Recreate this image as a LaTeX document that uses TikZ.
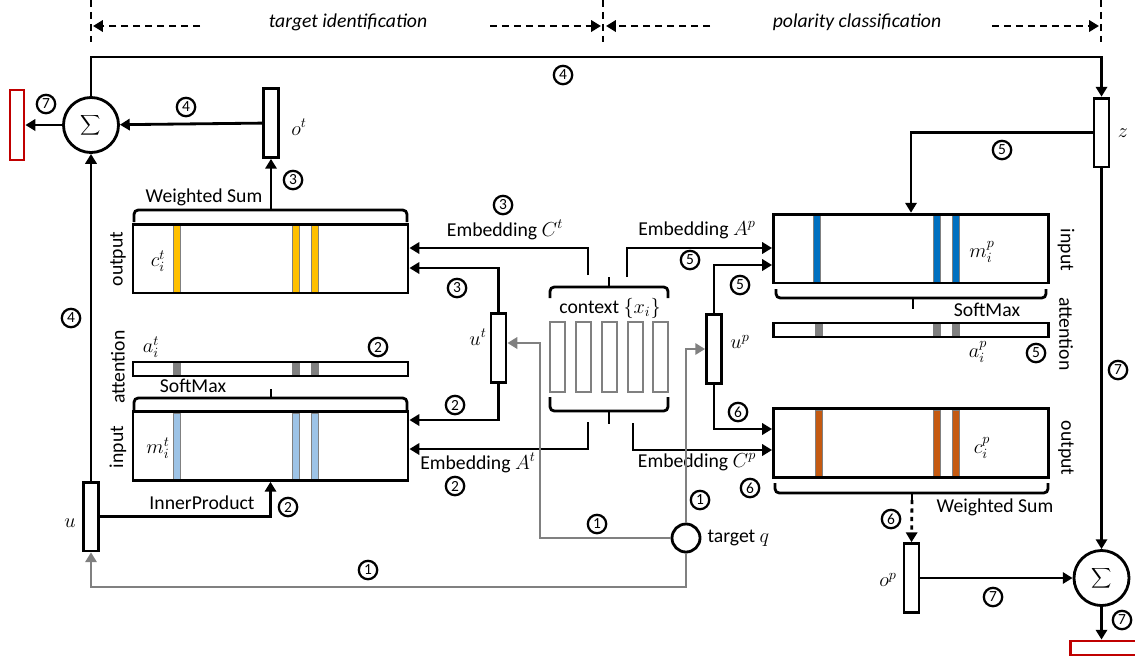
\documentclass[tikz,border=0pt]{standalone}
\usepackage{fontspec}
\setmainfont{Carlito}
\usetikzlibrary{arrows.meta}
\definecolor{barY}{HTML}{FFC000}
\definecolor{barLB}{HTML}{9DC3E6}
\definecolor{barB}{HTML}{0070C0}
\definecolor{barO}{HTML}{C55A11}
\definecolor{outred}{HTML}{C00000}
\definecolor{lgray}{HTML}{808080}

\begin{document}
\begin{tikzpicture}[x=0.025cm,y=-0.025cm,
    font=\fontsize{14}{16}\selectfont,
    line width=2pt,
    arr/.style={-{Triangle[length=7pt,width=8pt]}},
    garr/.style={lgray,-{Triangle[length=7pt,width=8pt]}},
    vec/.style={draw,fill=white,minimum width=0.375cm,minimum height=1.72cm,inner sep=0pt},
    mem/.style={draw,minimum width=6.875cm,minimum height=1.72cm,inner sep=0pt},
    attn/.style={draw,minimum width=6.875cm,minimum height=0.35cm,inner sep=0pt},
    ctxbox/.style={draw=lgray,minimum width=0.375cm,minimum height=1.75cm,inner sep=0pt},
    sumnode/.style={circle,draw,fill=white,minimum size=1.375cm,inner sep=0pt},
    num/.style={circle,draw,line width=1.6pt,minimum size=0.46cm,inner sep=0pt,font=\fontsize{11}{11}\selectfont},
    bar/.style={draw=gray,line width=0.5pt},
    brk/.style={rounded corners=3pt},
    hdr/.style={dash pattern=on 5pt off 3.5pt},
    ]
    \useasboundingbox (0,0) rectangle (1135,660);
    \clip (0,0) rectangle (1135,660);

    %Header
    \draw[hdr] (91,0) -- (91,42);
    \draw[hdr] (603,0) -- (603,42);
    \draw[hdr] (1101,0) -- (1101,42);
    \node[font=\fontsize{14}{16}\selectfont\itshape] (tid) at (348,22) {target identification};
    \node[font=\fontsize{14}{16}\selectfont\itshape] (pcl) at (857,22) {polarity classification};
    \coordinate (h1) at (93,26);
    \coordinate (h2) at (601,26);
    \coordinate (h3) at (606,26);
    \coordinate (h4) at (1099,26);
    \draw[hdr,arr] (200,26) -- (h1);
    \draw[hdr,arr] (490,26) -- (h2);
    \draw[hdr,arr] (710,26) -- (h3);
    \draw[hdr,arr] (992,26) -- (h4);

    %Left sum
    \node[sumnode] (sigt) at (91,125) {$\displaystyle\sum$};
    \node[draw=outred,minimum width=0.35cm,minimum height=1.75cm,inner sep=0pt] (predt) at (17,125) {};
    \node[vec] (ot) at (271,123) {};
    \node (otl) at (299,127) {$o^t$};
    \draw[arr] (sigt) -- (predt);
    \draw[arr] (ot) -- (sigt);
    \node[num] (n1) at (46,104) {7};
    \node[num] (n2) at (186,107) {4};
    \node[num] (n3) at (293,180) {3};

    %Top loop
    \node[vec] (z) at (1101.5,132.5) {};
    \node (zl) at (1123,133) {$z$};
    \draw[arr] (sigt.north) |- (z.north |- 0,57) -- (z.north);
    \node[num] (n4) at (563,75) {4};

    %Left output memory
    \foreach \x in {173,292,311} \filldraw[bar,fill=barY] (\x,225) rectangle ++(7,67);
    \node[mem] (outt) at (270.5,258.5) {};
    \node (cti) at (158,261) {$c_i^t$};
    \node[rotate=90] (otxt) at (118,259) {output};
    \draw[brk] (134,222) |- (271,210) -| (407,222);
    \coordinate (wst) at (271,203);
    \draw (271,210) -- (wst);
    \node (ws1) at (204,197) {Weighted Sum};
    \draw[arr] (wst) -- (ot.south);

    %Left attention
    \foreach \x in {173,292,311} \filldraw[bar,fill=gray] (\x,363) rectangle ++(7,12);
    \node[attn] (attt) at (270.5,369) {};
    \node (ati) at (151,347) {$a_i^t$};
    \node[num] (n5) at (378,347) {2};
    \node[rotate=90] (atxt) at (118,367) {attention};

    %Left input memory
    \foreach \x in {173,292,311} \filldraw[bar,fill=barLB] (\x,413) rectangle ++(7,66);
    \node[mem] (int) at (270.5,446) {};
    \node (mti) at (158,448) {$m_i^t$};
    \node[rotate=90] (itxt) at (118,447) {input};
    \draw[brk] (134,410) |- (271,398) -| (407,410);
    \draw (271,398) -- (271,389);
    \node (sm1) at (193,386) {SoftMax};

    %Query u
    \node[vec] (u) at (91,516.5) {};
    \node (ul) at (70,523) {$u$};
    \draw[arr] (u) -- (sigt);
    \node[num] (n6) at (71,318) {4};
    \draw[arr] (u.east) -| (int.south);
    \node (ip) at (202,503) {InnerProduct};
    \node[num] (n7) at (288,507) {2};

    %Context
    \foreach \x [count=\i] in {557.5,583.5,609.5,635.5,660.5}
        \node[ctxbox] (x\i) at (\x,357) {};
    \draw[brk] (550,298) |- (609,287) -| (668,298);
    \draw (609,287) -- (609,277);
    \draw[brk] (550,397) |- (609,411) -| (668,397);
    \draw (609,411) -- (609,424);
    \node (ctx) at (610,308) {context $\{x_i\}$};

    %u^t
    \node[vec] (ut) at (498.5,348) {};
    \node (utl) at (478,337) {$u^t$};
    \draw[arr] (ut.north) |- (outt.east |- 0,268);
    \draw[arr] (ut.south) |- (int.east |- 0,420);
    \node[num] (n8) at (457,288) {3};
    \node[num] (n9) at (455,405) {2};

    %Embeddings
    \coordinate (eCt) at (588,275);
    \coordinate (eAt) at (588,422);
    \coordinate (eAp) at (627,277);
    \coordinate (eCp) at (633,423);
    \draw[arr] (eCt) |- (outt.east |- 0,248);
    \draw[arr] (eAt) |- (int.east |- 0,449);
    \node (lCt) at (505,230) {Embedding $C^t$};
    \node[num] (n10) at (503,205) {3};
    \node (lAt) at (478,463) {Embedding $A^t$};
    \node[num] (n11) at (455,486) {2};

    %Target
    \node[circle,draw,fill=white,minimum size=0.7cm,inner sep=0pt] (q) at (686,538) {};
    \node[right] (ql) at (q.east) {target $q$};

    %u^p
    \node[vec] (up) at (714,349) {};
    \node (upl) at (740,342) {$u^p$};

    %Right input memory
    \foreach \x in {813,933,952} \filldraw[bar,fill=barB] (\x,215) rectangle ++(7,67);
    \node[mem] (inp) at (911,248.5) {};
    \node (mpi) at (982,252) {$m_i^p$};
    \node[rotate=-90] (iptxt) at (1066,250) {input};
    \draw[brk] (776,289) |- (913,298) -| (1046,289);
    \draw (913,298) -- (913,309);
    \node (sm2) at (987,310) {SoftMax};

    %Right attention
    \foreach \x in {815,933,952} \filldraw[bar,fill=gray] (\x,324) rectangle ++(7,12);
    \node[attn] (attp) at (911,330) {};
    \node (api) at (978,352) {$a_i^p$};
    \node[num] (n12) at (1036,353) {5};
    \node[rotate=-90] (aptxt) at (1066,334) {attention};

    %Right output memory
    \foreach \x in {815,933,952} \filldraw[bar,fill=barO] (\x,410) rectangle ++(7,66);
    \node[mem] (outp) at (911,443) {};
    \node (cpi) at (982,448) {$c_i^p$};
    \node[rotate=-90] (optxt) at (1066,448) {output};
    \draw[brk] (775,483) |- (912,493) -| (1048,483);
    \coordinate (wsp) at (912,500);
    \draw (912,493) -- (wsp);
    \node (ws2) at (995,507) {Weighted Sum};

    %u^p and embeddings to the right
    \draw[arr] (up.north) |- (inp.west |- 0,265);
    \draw[arr] (up.south) |- (outp.west |- 0,429);
    \draw[arr] (eAp) |- (inp.west |- 0,248);
    \draw[arr] (eCp) |- (outp.west |- 0,450);
    \node (lAp) at (697,230) {Embedding $A^p$};
    \node[num] (n13) at (690,260) {5};
    \node[num] (n14) at (740,285) {5};
    \node[num] (n15) at (738,412) {6};
    \node (lCp) at (697,462) {Embedding $C^p$};
    \node[num] (n16) at (750,488) {6};

    %Target lines
    \draw[garr] (q.west) -| (540,343) -- (ut.east |- 0,343);
    \draw[garr] (q.north) |- (up.west |- 0,349);
    \draw[garr] (q.south) -- (q.south |- 0,587) -| (u.south);
    \node[num] (n17) at (597,524) {1};
    \node[num] (n18) at (700,500) {1};
    \node[num] (n19) at (368,570) {1};

    %Right sum
    \draw[arr] (z.west) -| (inp.north);
    \node[num] (n20) at (1002,150) {5};
    \node[sumnode] (sigp) at (1101.5,578) {$\displaystyle\sum$};
    \draw[arr] (z) -- (sigp);
    \node[num] (n21) at (1118,370) {7};
    \node[vec] (op) at (911.5,578) {};
    \node (opl) at (888,580) {$o^p$};
    \draw[arr,dashed] (wsp) -- (op.north);
    \node[num] (n22) at (891,519) {6};
    \draw[arr] (op) -- (sigp);
    \node[num] (n23) at (993,597) {7};
    \node[draw=outred,minimum width=1.975cm,minimum height=0.35cm,inner sep=0pt] (predp) at (1110,648) {};
    \draw[arr] (sigp) -- (sigp |- predp.north);
    \node[num] (n24) at (1122,620) {7};
\end{tikzpicture}
\end{document}
